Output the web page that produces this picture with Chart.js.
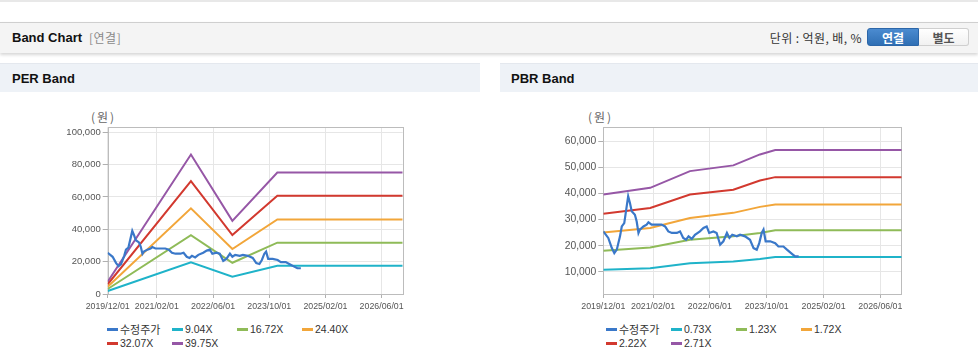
<!DOCTYPE html>
<html>
<head>
<meta charset="utf-8">
<script src="https://cdn.jsdelivr.net/npm/chart.js@4.4.1/dist/chart.umd.min.js"></script>
<style>
  html, body { margin:0; padding:0; background:#fff; }
  body { width:978px; height:361px; position:relative; overflow:hidden; font-family:"Liberation Sans", Arial, "Noto Sans CJK KR", sans-serif; }
  .topline { position:absolute; left:0; top:0; width:978px; height:2px; background:#e8e8e8; }
  .header { position:absolute; left:0; top:22px; width:978px; height:30px; background:#f4f4f4; border-top:1px solid #cfcfcf; box-shadow:0 2px 3px rgba(0,0,0,0.16); }
  .header .title { position:absolute; left:12px; top:7px; font:bold 13px "Liberation Sans", Arial, sans-serif; color:#111; }
  .header .sub { position:absolute; left:89px; top:8px; font:12px "Noto Sans CJK KR", sans-serif; color:#8a8a8a; line-height:14px; letter-spacing:0.5px; }
  .header .unit { position:absolute; right:116px; top:7px; font:12px "Noto Sans CJK KR", sans-serif; color:#333; line-height:16px; letter-spacing:0.4px; }
  .btn { position:absolute; top:5px; height:18px; line-height:18px; text-align:center; font:bold 12px "Noto Sans CJK KR", sans-serif; box-sizing:border-box; }
  .btn.on { left:867px; width:52px; background:linear-gradient(#4b8bd0,#2f6fb4); color:#fff; border:1px solid #2c66a8; border-radius:3px 0 0 3px; }
  .btn.off { left:919px; width:50px; background:linear-gradient(#ffffff,#f1f1f1); color:#555; border:1px solid #cfcfcf; border-left:none; border-radius:0 3px 3px 0; }
  .panel { position:absolute; top:63px; height:29px; background:#eef2f7; border-top:1px solid #e4e8ee; box-sizing:border-box; }
  .panel span { position:absolute; left:12px; top:7px; font:bold 13px "Liberation Sans", Arial, sans-serif; color:#111; }
  .unitlbl { position:absolute; top:109px; font:12px "Noto Sans CJK KR", sans-serif; color:#666; line-height:16px; letter-spacing:2px; }
  canvas.c { position:absolute; top:100px; }
  .legend { position:absolute; top:322px; display:grid; grid-template-columns:repeat(4, 65px); grid-auto-rows:14px; font:10.5px "Liberation Sans", Arial, "Noto Sans CJK KR", sans-serif; color:#333; }
  .legend div { display:flex; align-items:center; white-space:nowrap; }
  .legend i { display:inline-block; width:11px; height:3px; margin-right:2px; }
  .legend .kr { font-family:"Noto Sans CJK KR", sans-serif; font-size:11px; }
</style>
</head>
<body>
<div class="topline"></div>
<div class="header">
  <div class="title">Band Chart</div>
  <div class="sub">[연결]</div>
  <div class="unit">단위 : 억원, 배, %</div>
  <div class="btn on">연결</div>
  <div class="btn off">별도</div>
</div>
<div class="panel" style="left:0;width:480px;"><span>PER Band</span></div>
<div class="panel" style="left:500px;width:478px;"><span style="left:11px">PBR Band</span></div>
<div class="unitlbl" style="left:91px;">(원)</div>
<div class="unitlbl" style="left:588px;">(원)</div>
<canvas class="c" id="per" width="480" height="215" style="left:0;width:480px;height:215px;"></canvas>
<canvas class="c" id="pbr" width="478" height="215" style="left:500px;width:478px;height:215px;"></canvas>
<div class="legend" id="perLegend" style="left:107px;"></div>
<div class="legend" id="pbrLegend" style="left:606px;"></div>
<script>
// ---------- data ----------
const axisStart = '2019/12/01';
const axisEnd = '2026/12/01';
const xTickLabels = ['2019/12/01','2021/02/01','2022/06/01','2023/10/01','2025/02/01','2026/06/01'];

const priceLabel = '수정주가';
const priceDates = ['2019/12/01','2020/01/13','2020/02/13','2020/03/04','2020/03/25','2020/04/22','2020/05/07','2020/05/28',
  '2020/07/01','2020/07/16','2020/08/01','2020/08/28','2020/09/13','2020/09/28','2020/10/10','2020/11/10','2020/12/07',
  '2020/12/22','2021/01/19','2021/03/01','2021/04/13','2021/05/13','2021/06/10','2021/07/10','2021/08/22','2021/09/19',
  '2021/10/16','2021/11/10','2021/12/01','2021/12/28','2022/01/25','2022/03/07','2022/04/07','2022/05/04','2022/05/25',
  '2022/07/01','2022/07/28','2022/08/28','2022/09/25','2022/10/25','2022/11/16','2022/12/10','2023/01/19','2023/02/16',
  '2023/03/28','2023/05/10','2023/06/10','2023/07/07','2023/07/28','2023/08/19','2023/09/04','2023/09/22','2023/11/01',
  '2023/12/13','2024/01/10','2024/02/22','2024/03/22','2024/05/04','2024/06/01','2024/07/01'];
const priceValues = [25500,23000,19100,17200,18500,23600,27400,28700,
  39000,36400,33200,31900,29300,24900,26200,27400,28100,
  29000,28100,28100,28100,27400,25500,24900,24900,25500,
  23000,22300,23600,22600,24200,25500,26800,27400,24900,
  25500,24900,20400,21700,24900,23000,24200,23600,24200,
  23600,22300,19100,18500,21000,24900,26200,21700,21700,
  21000,19700,19700,18500,16900,15900,15900];

const perBandDates = ['2019/12/01','2021/11/22','2022/11/16','2023/12/10','2026/12/01'];
const perBandLabels = ['9.04X','16.72X','24.40X','32.07X','39.75X'];
const per904  = [1850, 19600, 10700, 17400, 17400];
const per1672 = [3100, 36400, 19300, 31700, 31700];
const per2440 = [4500, 52900, 27800, 46100, 46100];
const per3207 = [6000, 69800, 36400, 60700, 60700];
const per3975 = [7600, 86200, 45200, 75100, 75100];
const perYTicks = [0, 20000, 40000, 60000, 80000, 100000];

const pbrBandDates = ['2019/12/01','2021/01/07','2021/12/13','2022/12/19','2023/08/04','2023/12/13','2026/12/01'];
const pbrBandLabels = ['0.73X','1.23X','1.72X','2.22X','2.71X'];
const pbr073 = [10800, 11400, 13300, 14000, 14900, 15700, 15700];
const pbr123 = [18100, 19300, 22300, 23600, 24900, 25900, 25900];
const pbr172 = [25100, 26800, 30600, 32600, 34900, 35800, 35800];
const pbr222 = [32300, 34500, 39600, 41500, 45000, 46300, 46300];
const pbr271 = [39600, 42200, 48600, 50800, 55000, 56700, 56700];
const pbrYTicks = [10000, 20000, 30000, 40000, 50000, 60000];

const colors = ['#3a78c9', '#1fb3c9', '#8fbb58', '#f2a63a', '#d2392f', '#9657a6'];

// ---------- helpers ----------
function monthIndex(s) {
  const p = s.split('/').map(Number);
  return (p[0] - 2019) * 12 + (p[1] - 12) + (p[2] - 1) / 30;
}
function pts(dates, vals) { return dates.map((d, i) => ({ x: monthIndex(d), y: vals[i] })); }

const frame = {
  id: 'frame',
  beforeDatasetsDraw(chart) {
    const a = chart.chartArea, ctx = chart.ctx;
    ctx.save();
    ctx.strokeStyle = '#bcbcbc';
    ctx.lineWidth = 1;
    ctx.strokeRect(Math.round(a.left) + 0.5, Math.round(a.top) + 0.5, Math.round(a.right - a.left), Math.round(a.bottom - a.top));
    ctx.restore();
  }
};

function makeChart(id, legendId, bandDates, bandLabels, bandSeries, yTicks, yMin, yMax, area, yFont) {
  const datasets = [{ label: priceLabel, data: pts(priceDates, priceValues), borderColor: colors[0], borderWidth: 2.2 }];
  bandSeries.forEach((s, i) => datasets.push({ label: bandLabels[i], data: pts(bandDates, s), borderColor: colors[i + 1], borderWidth: 2 }));
  datasets.forEach(d => { d.pointRadius = 0; d.tension = 0; d.fill = false; d.backgroundColor = d.borderColor; });
  const chart = new Chart(document.getElementById(id), {
    type: 'line',
    data: { datasets },
    plugins: [frame],
    options: {
      responsive: false, animation: false, devicePixelRatio: 1,
      layout: { padding: { left: 0, top: area.top, right: area.right, bottom: 0 } },
      plugins: { legend: { display: false }, tooltip: { enabled: false } },
      scales: {
        x: {
          type: 'linear', min: monthIndex(axisStart), max: monthIndex(axisEnd),
          afterBuildTicks: s => { s.ticks = xTickLabels.map(t => ({ value: monthIndex(t) })); },
          afterFit: s => { s.height = 215 - area.bottom; },
          ticks: { autoSkip: false, maxRotation: 0, padding: 3, color: '#555', font: { family: '"Liberation Sans", Arial', size: 8.8 },
                   callback: (v, i) => xTickLabels[i] },
          grid: { color: '#e6e6e6', tickColor: '#b0b0b0', tickLength: 4 },
          border: { display: false }
        },
        y: {
          min: yMin, max: yMax,
          afterBuildTicks: s => { s.ticks = yTicks.map(v => ({ value: v })); },
          afterFit: s => { s.width = area.left; },
          ticks: { padding: 2, color: '#555', font: { family: '"Liberation Sans", Arial', size: yFont },
                   callback: v => v.toLocaleString('en-US') },
          grid: { color: '#e6e6e6', tickColor: '#b0b0b0', tickLength: 5 },
          border: { display: false }
        }
      }
    }
  });
  const lg = document.getElementById(legendId);
  chart.data.datasets.forEach(d => {
    const item = document.createElement('div');
    const ic = document.createElement('i'); ic.style.background = d.borderColor;
    const tx = document.createElement('span'); tx.textContent = d.label;
    if (/[가-힣]/.test(d.label)) tx.className = 'kr';
    item.appendChild(ic); item.appendChild(tx); lg.appendChild(item);
  });
  return chart;
}

makeChart('per', 'perLegend', perBandDates, perBandLabels, [per904, per1672, per2440, per3207, per3975],
  perYTicks, 0, 103000, { left: 107.7, top: 27.3, right: 480 - 402.7, bottom: 194 }, 9.5);
makeChart('pbr', 'pbrLegend', pbrBandDates, pbrBandLabels, [pbr073, pbr123, pbr172, pbr222, pbr271],
  pbrYTicks, 1500, 65400, { left: 103.3, top: 27.3, right: 478 - 401.7, bottom: 194 }, 10.3);
</script>
</body>
</html>
